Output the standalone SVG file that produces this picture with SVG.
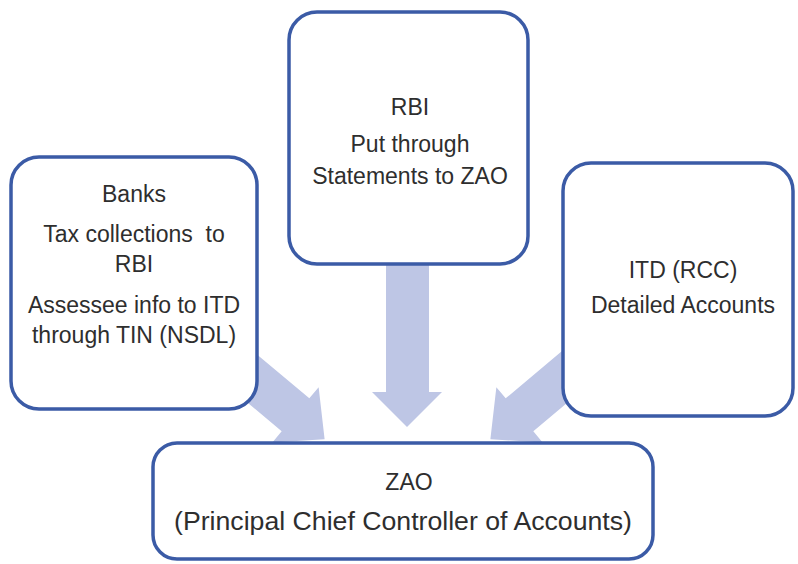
<svg xmlns="http://www.w3.org/2000/svg" width="798" height="564" viewBox="0 0 798 564">
  <style>
    .box { fill: #ffffff; stroke: #3b5ba6; stroke-width: 3.5; }
    .flow { fill: #bec6e5; }
    .label { font-family: "Liberation Sans", Arial, sans-serif; font-size: 23px; fill: #2e2e2e; text-anchor: middle; white-space: pre; }
  </style>
  <defs>
    <!-- block arrow pointing along +x, tip at x=38 -->
    <path id="blockArrow" d="M -110 -21.5 L 0 -21.5 L 0 -36 L 38 0 L 0 36 L 0 21.5 L -110 21.5 Z"/>
  </defs>

  <rect width="798" height="564" fill="#ffffff"/>

  <!-- connectors (drawn under the boxes) -->
  <g id="connectors">
    <use href="#blockArrow" class="flow" transform="translate(295.5,414.8) rotate(40)"/>
    <path class="flow" d="M 386 262 L 429 262 L 429 392 L 442 392 L 407 427 L 372 392 L 386 392 Z"/>
    <use href="#blockArrow" class="flow" transform="translate(519.5,414.8) rotate(140)"/>
  </g>

  <g id="banks">
    <rect class="box" x="11" y="157" width="246" height="252" rx="28"/>
    <text class="label" x="134" y="202">Banks</text>
    <text class="label" x="134" y="242" xml:space="preserve">Tax collections  to</text>
    <text class="label" x="134" y="272">RBI</text>
    <text class="label" x="134" y="313">Assessee info to ITD</text>
    <text class="label" x="134" y="343">through TIN (NSDL)</text>
  </g>

  <g id="rbi">
    <rect class="box" x="289" y="12" width="239" height="252" rx="28"/>
    <text class="label" x="410" y="115">RBI</text>
    <text class="label" x="410" y="152">Put through</text>
    <text class="label" x="410" y="184">Statements to ZAO</text>
  </g>

  <g id="itd">
    <rect class="box" x="563" y="163" width="230" height="253" rx="28"/>
    <text class="label" x="683" y="278">ITD (RCC)</text>
    <text class="label" x="683" y="313">Detailed Accounts</text>
  </g>

  <g id="zao">
    <rect class="box" x="153" y="443" width="500" height="116" rx="24"/>
    <text class="label" x="409" y="490">ZAO</text>
    <text class="label" x="403" y="530" style="font-size:25px" textLength="458" lengthAdjust="spacingAndGlyphs">(Principal Chief Controller of Accounts)</text>
  </g>
</svg>
